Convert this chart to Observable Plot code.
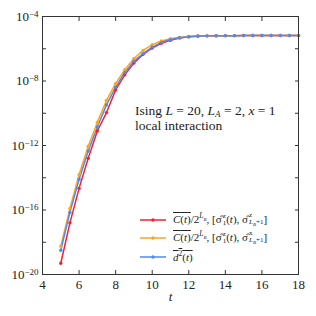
<!DOCTYPE html>
<html><head><meta charset="utf-8">
<script src="https://cdn.jsdelivr.net/npm/d3@7"></script>
<script src="https://cdn.jsdelivr.net/npm/@observablehq/plot@0.6"></script>
<style>
body{margin:0;background:#fff}
#fig{position:relative;width:316px;height:316px;font-family:'Liberation Serif','Times New Roman','DejaVu Serif',serif;color:#222}
.ann{position:absolute;font-size:13.5px;line-height:15px;white-space:nowrap}
.ann sub{font-size:9px;vertical-align:-2px;line-height:0}
.leg{position:absolute;left:140px;top:211px;font-size:11px;white-space:nowrap}
.row{height:18.3px;display:flex;align-items:center}
.row svg{margin-right:7px}
.ol{text-decoration:overline}
.ss{display:inline-flex;flex-direction:column;font-size:7px;line-height:7px;vertical-align:middle;margin-left:1px}
.sp{font-size:7.5px;vertical-align:5px;line-height:0}
</style></head><body><div id="fig"></div>
<script>
const t = [5,5.5,6,6.5,7,7.5,8,8.5,9,9.5,10,10.5,11,11.5,12,12.5,13,13.5,14,14.5,15,15.5,16,16.5,17,17.5,18];
const redValues = [5.0e-20,1.6e-17,2.2e-15,1.6e-13,7.9e-12,1.1e-10,2.8e-9,2.4e-8,1.3e-7,4.5e-7,1.1e-6,2.2e-6,3.4e-6,4.7e-6,5.5e-6,6.0e-6,6.3e-6,6.4e-6,6.5e-6,6.5e-6,6.6e-6,6.6e-6,6.6e-6,6.6e-6,6.6e-6,6.6e-6,6.6e-6];
const orangeValues = [5.6e-19,1.26e-16,1.6e-14,8.9e-13,2.8e-11,6.3e-10,7.1e-9,5.0e-8,2.5e-7,7.9e-7,1.8e-6,3.0e-6,4.2e-6,5.1e-6,5.8e-6,6.2e-6,6.3e-6,6.4e-6,6.5e-6,6.5e-6,6.6e-6,6.6e-6,6.6e-6,6.6e-6,6.6e-6,6.6e-6,6.6e-6];
const blueValues = [3.2e-19,7.1e-17,7.9e-15,4.5e-13,1.4e-11,3.3e-10,4.2e-9,3.4e-8,1.7e-7,5.0e-7,1.26e-6,2.5e-6,3.7e-6,4.8e-6,5.6e-6,6.2e-6,6.3e-6,6.4e-6,6.5e-6,6.5e-6,6.6e-6,6.6e-6,6.6e-6,6.6e-6,6.6e-6,6.6e-6,6.6e-6];
const seriesNames = ["zz","zx","d2"];
const seriesColors = ["#f5222d","#ffa515","#4a8cf7"];
const xTicks = [4,6,8,10,12,14,16,18];
const yTicks = [1e-4,1e-6,1e-8,1e-10,1e-12,1e-14,1e-16,1e-18,1e-20];
const yTickLabels = ["10|−4","","10|−8","","10|−12","","10|−16","","10|−20"];

const seriesValues = [redValues, orangeValues, blueValues];
const rows = seriesNames.flatMap((s, k) => t.map((x, i) => ({t: x, v: seriesValues[k][i], s})));
const FONT = "'Liberation Serif','Times New Roman','DejaVu Serif',serif";

const plot = Plot.plot({
  width: 316, height: 316,
  marginLeft: 42, marginRight: 18, marginTop: 16, marginBottom: 42,
  style: {fontFamily: FONT, fontSize: "13px", color: "#222", background: "#fff"},
  x: {domain: [4, 18]},
  y: {type: "log", domain: [1e-20, 1e-4]},
  color: {domain: seriesNames, range: seriesColors},
  marks: [
    Plot.axisX({anchor: "bottom", ticks: xTicks, tickSize: -4, tickPadding: 9, label: null, stroke: "#333"}),
    Plot.axisX({anchor: "top", ticks: xTicks, tickSize: -4, tickFormat: () => "", label: null, stroke: "#333"}),
    Plot.axisY({anchor: "left", ticks: yTicks, tickSize: -4, tickPadding: 8, tickFormat: d => yTickLabels[yTicks.indexOf(d)], label: null, stroke: "#333"}),
    Plot.axisY({anchor: "right", ticks: yTicks, tickSize: -4, tickFormat: () => "", label: null, stroke: "#333"}),
    Plot.line(rows, {x: "t", y: "v", z: "s", stroke: "s", strokeWidth: 1.5}),
    Plot.dot(rows, {x: "t", y: "v", fill: "s", r: 1.7}),
    Plot.frame({stroke: "#333"}),
    Plot.text(["t"], {frameAnchor: "bottom", dy: 26, fontStyle: "italic", fontSize: 13})
  ]
});
// render exponent part of y tick labels as superscript
d3.select(plot).selectAll('g[aria-label="y-axis tick label"] text').each(function() {
  const s = this.textContent;
  if (!s.includes("|")) return;
  const [base, exp] = s.split("|");
  const el = d3.select(this);
  el.text(null);
  el.append("tspan").text(base);
  el.append("tspan").attr("dy", "-0.45em").attr("font-size", "9px").text(exp);
});
const fig = document.getElementById("fig");
fig.appendChild(plot);

const sw = c => `<svg width="26" height="6"><line x1="0" y1="3" x2="26" y2="3" stroke="${c}" stroke-width="1.5"/><circle cx="13" cy="3" r="1.7" fill="${c}"/></svg>`;
const LB = `<i>L<sub style="font-size:5px">B</sub></i>`;
const sig = (up, dn) => `[σ̂<span class="ss"><span>${up}</span><span>1</span></span>(<i>t</i>), σ̂<span class="ss"><span>${dn}</span><span>${LB}+1</span></span>]`;
const legendLabels = [
  `<span class="ol"><i>C</i>(<i>t</i>)</span>/2<span class="sp">${LB}</span>, ` + sig("z","z"),
  `<span class="ol"><i>C</i>(<i>t</i>)</span>/2<span class="sp">${LB}</span>, ` + sig("z","x"),
  `<span class="ol"><i>d</i><span class="sp">2</span>(<i>t</i>)</span>`
];
const ann = document.createElement("div");
ann.className = "ann";
ann.style.left = "135px"; ann.style.top = "103px";
ann.innerHTML = `Ising <i>L</i> = 20, <i>L<sub>A</sub></i> = 2, <i>x</i> = 1<br>local interaction`;
fig.appendChild(ann);
const leg = document.createElement("div");
leg.className = "leg";
leg.innerHTML = seriesColors.map((c, i) => `<div class="row">${sw(c)}<span>${legendLabels[i]}</span></div>`).join("");
fig.appendChild(leg);
</script></body></html>
